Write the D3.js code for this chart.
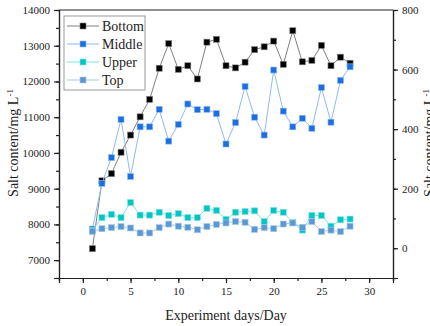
<!DOCTYPE html>
<html>
<head>
<meta charset="utf-8">
<script src="https://cdn.jsdelivr.net/npm/d3@7"></script>
<style>
  body { margin: 0; background: #fff; }
  text { font-family: "Liberation Serif", "Times New Roman", serif; fill: #222; }
</style>
</head>
<body>
<div id="chart"></div>
<script>
// days 1..28
var days = d3.range(1, 29);
var bottom = [7320, 9220, 9420, 10020, 10500, 11010, 11500, 12370, 13060, 12340, 12440, 12070, 13100, 13180,
              12440, 12380, 12540, 12890, 12970, 13130, 12480, 13420, 12550, 12590, 13010, 12440, 12680, 12510];
var middle = [7870, 9150, 9870, 10940, 9340, 10730, 10730, 11220, 10330, 10800, 11370, 11210, 11220, 11100,
              10250, 10850, 11860, 11000, 10500, 12320, 11170, 10730, 10970, 10690, 11830, 10860, 12030, 12410];
var upper = [7830, 8190, 8280, 8190, 8610, 8260, 8260, 8340, 8250, 8300, 8190, 8190, 8450, 8390,
             8140, 8340, 8360, 8380, 8080, 8390, 8340, 8050, 7840, 8250, 8250, 7950, 8130, 8150];
var top_ = [7800, 7880, 7910, 7940, 7900, 7760, 7760, 7910, 8010, 7950, 7920, 7850, 7940, 8000,
            8040, 8080, 8060, 7860, 7910, 7880, 8010, 8040, 7920, 8080, 7800, 7840, 7800, 7950];

var seriesNames = ["Bottom", "Middle", "Upper", "Top"];
var seriesValues = [bottom, middle, upper, top_];
var markColors = ["#000000", "#1c6fe0", "#00c6c6", "#5a98d2"];
var lineColors = ["#808080", "#8fbaf2", "#80e2e2", "#a9c9ec"];

var xTicks = [0, 5, 10, 15, 20, 25, 30];
var yTicksLeft = [7000, 8000, 9000, 10000, 11000, 12000, 13000, 14000];
var yTicksRight = [0, 200, 400, 600, 800];

var W = 430, H = 326;
var margin = {top: 10, right: 37, bottom: 48, left: 59};
var width = W - margin.left - margin.right,
    height = H - margin.top - margin.bottom;

var svg = d3.select("#chart").append("svg")
  .attr("width", W).attr("height", H);

var g = svg.append("g")
  .attr("transform", "translate(" + margin.left + "," + margin.top + ")");

var x = d3.scaleLinear().domain([-2.5, 32.5]).range([0, width]);
var y = d3.scaleLinear().domain([6500, 14000]).range([height, 0]);
var y2 = d3.scaleLinear().domain([-100, 800]).range([height, 0]);

// minor ticks first
g.append("g").attr("transform", "translate(0," + height + ")")
  .call(d3.axisBottom(x).tickValues(d3.range(-2.5, 32.6, 2.5)).tickSize(3).tickFormat(""));
g.append("g")
  .call(d3.axisLeft(y).tickValues(d3.range(6500, 14001, 500)).tickSize(3).tickFormat(""));
g.append("g").attr("transform", "translate(" + width + ",0)")
  .call(d3.axisRight(y2).tickValues(d3.range(-100, 801, 100)).tickSize(3).tickFormat(""));

// major ticks
g.append("g").attr("transform", "translate(0," + height + ")")
  .call(d3.axisBottom(x).tickValues(xTicks).tickSize(5).tickPadding(4).tickFormat(d3.format("d")));
g.append("g")
  .call(d3.axisLeft(y).tickValues(yTicksLeft).tickSize(5).tickPadding(4).tickFormat(d3.format("d")));
g.append("g").attr("transform", "translate(" + width + ",0)")
  .call(d3.axisRight(y2).tickValues(yTicksRight).tickSize(5).tickPadding(4).tickFormat(d3.format("d")));

g.selectAll(".tick text").style("font-size", "11px");
g.selectAll(".domain, .tick line").attr("stroke", "#222").attr("stroke-width", 1.2);

// top frame line
g.append("line").attr("x1", 0).attr("x2", width).attr("y1", 0).attr("y2", 0)
  .attr("stroke", "#222").attr("stroke-width", 1.2);

// series
seriesValues.forEach(function(vals, i) {
  var pts = days.map(function(d, j) { return [d, vals[j]]; });
  g.append("path")
    .datum(pts)
    .attr("fill", "none")
    .attr("stroke", lineColors[i])
    .attr("stroke-width", 1)
    .attr("d", d3.line().x(function(p) { return x(p[0]); }).y(function(p) { return y(p[1]); }));
  g.selectAll(".m" + i).data(pts).enter().append("rect")
    .attr("class", "m" + i)
    .attr("x", function(p) { return x(p[0]) - 3; })
    .attr("y", function(p) { return y(p[1]) - 3; })
    .attr("width", 6).attr("height", 6)
    .attr("fill", markColors[i])
    .attr("stroke", lineColors[i]).attr("stroke-width", 0.6);
});

// legend
var leg = g.append("g").attr("transform", "translate(5,6)");
leg.append("rect").attr("x", 0).attr("y", 0).attr("width", 81).attr("height", 74)
  .attr("fill", "#fff").attr("stroke", "#999").attr("stroke-width", 1);
seriesNames.forEach(function(name, i) {
  var ly = 10 + i * 18;
  leg.append("line").attr("x1", 3).attr("x2", 35).attr("y1", ly).attr("y2", ly)
    .attr("stroke", lineColors[i]).attr("stroke-width", 1);
  leg.append("rect").attr("x", 16).attr("y", ly - 3).attr("width", 6).attr("height", 6)
    .attr("fill", markColors[i]).attr("stroke", lineColors[i]).attr("stroke-width", 0.6);
  leg.append("text").attr("x", 38).attr("y", ly + 5).style("font-size", "14px").text(name);
});

// axis titles
svg.append("text")
  .attr("x", margin.left + x(15)).attr("y", 320)
  .attr("text-anchor", "middle").style("font-size", "14px")
  .text("Experiment days/Day");

function yTitle(tx, ty) {
  var t = svg.append("text")
    .attr("transform", "translate(" + tx + "," + ty + ") rotate(-90)")
    .attr("text-anchor", "middle").style("font-size", "14px");
  t.append("tspan").text("Salt content/mg L");
  t.append("tspan").attr("dy", -5).style("font-size", "9px").text("-1");
}
yTitle(18, 143);
// the right-hand title is cut off by the page edge in the original too
yTitle(434, 143);
</script>
</body>
</html>
